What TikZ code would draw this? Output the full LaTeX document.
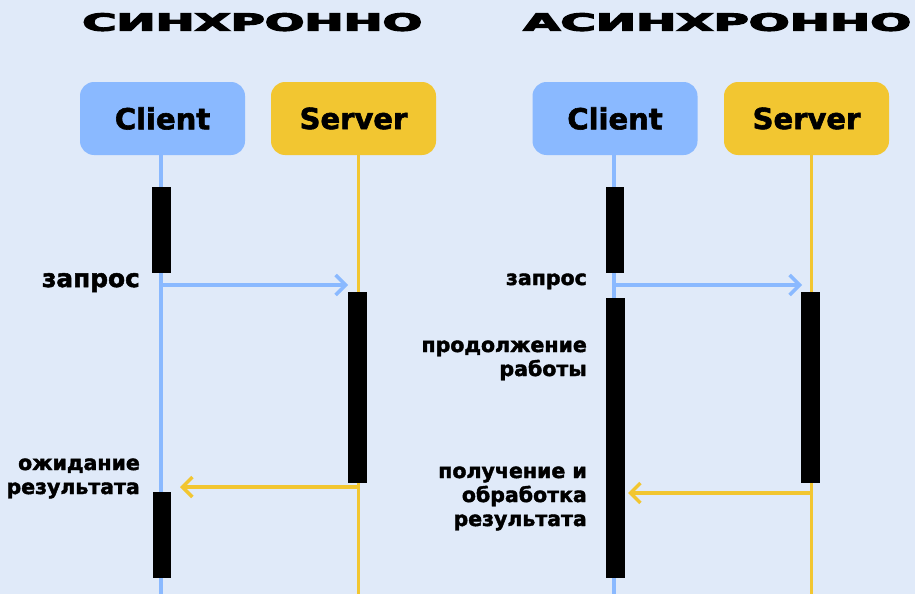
\documentclass[tikz,border=0pt]{standalone}
\usepackage{graphicx}
\usepackage{fontspec}
\setmainfont{DejaVu Sans}
\newfontfamily\ttlfont[FakeBold=4.5]{DejaVu Sans Bold}
\newfontfamily\lblfont[FakeBold=2]{DejaVu Sans Bold}
\newfontfamily\actfont[FakeBold=2]{DejaVu Sans Bold}
\usetikzlibrary{arrows.meta}
\definecolor{bgc}{HTML}{E0EAF9}
\definecolor{cblue}{HTML}{8AB9FF}
\definecolor{cyel}{HTML}{F2C631}
\newcommand\rlines[1]{\vtop{\halign{\hfil##\cr#1\crcr}}}
\begin{document}
\begin{tikzpicture}[x=1pt,y=-1pt,
  actor/.style={rounded corners=14pt, minimum width=165pt, minimum height=73pt,
    font=\fontsize{29}{33}\actfont, inner sep=0pt},
  clientbox/.style={actor, fill=cblue},
  serverbox/.style={actor, fill=cyel},
  bar/.style={fill=black, inner sep=0pt, minimum width=18.5pt, anchor=north},
  bluelife/.style={cblue, line width=3.2pt},
  yellife/.style={cyel, line width=3pt},
  msg/.style={line width=3.4pt, -{Straight Barb[length=10pt,width=20pt]}},
  lbl/.style={font=\fontsize{20.5}{24}\lblfont, anchor=base east, inner sep=0pt},
  biglbl/.style={lbl, font=\fontsize{24.8}{28}\lblfont},
  ttl/.style={inner sep=0pt, anchor=north west}
]
\path[fill=bgc] (0,0) rectangle (915,594);
\useasboundingbox (0,0) rectangle (915,594);

% titles
\node[ttl] (t1) at (82,13) {\resizebox{340pt}{17.5pt}{\ttlfont СИНХРОННО}};
\node[ttl] (t2) at (523,13) {\resizebox{388pt}{17.5pt}{\ttlfont АСИНХРОННО}};

% actor boxes
\node[clientbox] (c1) at (162.5,118.5) {Client};
\node[serverbox] (s1) at (353.5,118.5) {Server};
\node[clientbox] (c2) at (615,118.5) {Client};
\node[serverbox] (s2) at (806.5,118.5) {Server};

% lifeline ends
\coordinate (c1top) at (161,155);
\coordinate (c1bot) at (161,594);
\coordinate (s1top) at (358,155);
\coordinate (s1bot) at (358,594);
\coordinate (c2top) at (614,155);
\coordinate (c2bot) at (614,594);
\coordinate (s2top) at (811,155);
\coordinate (s2bot) at (811,594);

\draw[bluelife] (c1top) -- (c1bot);
\draw[yellife] (s1top) -- (s1bot);
\draw[bluelife] (c2top) -- (c2bot);
\draw[yellife] (s2top) -- (s2bot);

% activation bars
\node[bar, minimum height=86pt] (b1) at (161.5,187) {};
\node[bar, minimum height=191pt] (b2) at (357.5,292) {};
\node[bar, minimum height=86pt] (b3) at (162,492) {};
\node[bar, minimum height=86pt] (b4) at (615,187) {};
\node[bar, minimum height=280pt] (b5) at (615.5,298) {};
\node[bar, minimum height=191pt] (b6) at (810.5,292) {};

% messages
\coordinate (m1a) at (161,285);
\coordinate (m1b) at (348,285);
\coordinate (m2a) at (358,487);
\coordinate (m2b) at (180,487);
\coordinate (m3a) at (614,285);
\coordinate (m3b) at (802,285);
\coordinate (m4a) at (811,493);
\coordinate (m4b) at (628,493);
\draw[msg, cblue] (m1a) -- (m1b);
\draw[msg, cyel] (m2a) -- (m2b);
\draw[msg, cblue] (m3a) -- (m3b);
\draw[msg, cyel] (m4a) -- (m4b);

% labels
\node[biglbl] (l1) at (140,287) {запрос};
\node[lbl] (l2) at (140,470) {\rlines{ожидание\cr результата}};
\node[lbl] (l3) at (587,285) {запрос};
\node[lbl] (l4) at (587,352) {\rlines{продолжение\cr работы}};
\node[lbl] (l5) at (587,478) {\rlines{получение и\cr обработка\cr результата}};
\end{tikzpicture}
\end{document}
